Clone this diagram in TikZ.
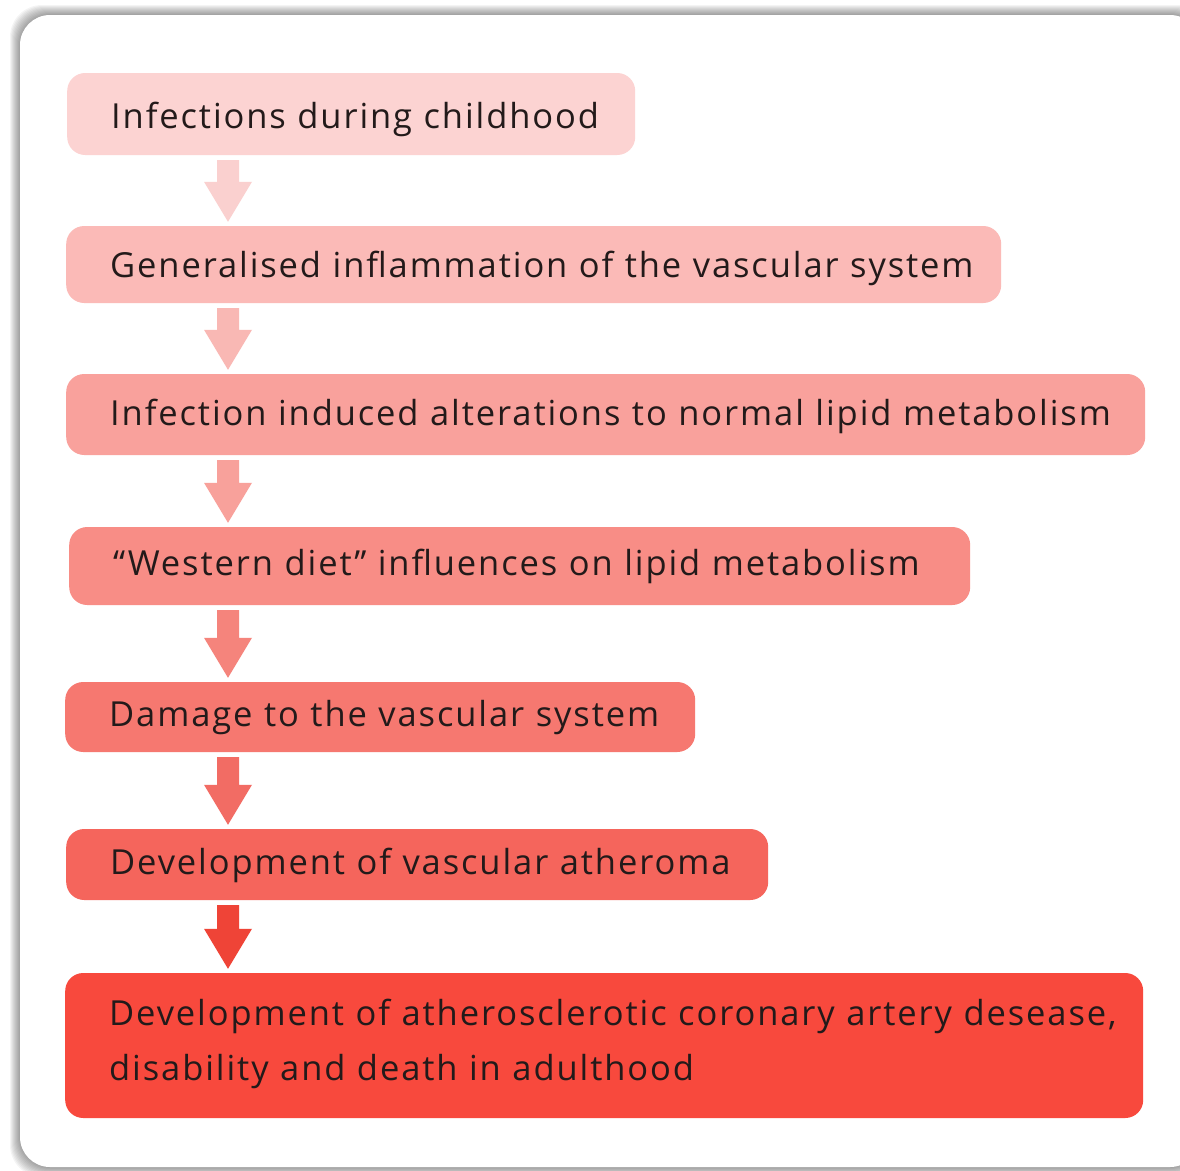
\documentclass[tikz,border=0pt]{standalone}
\usepackage{fontspec}
\setmainfont[LetterSpace=5.5]{Open Sans}
\usetikzlibrary{calc}
\definecolor{cA}{HTML}{FCD3D2}
\definecolor{cB}{HTML}{FBBAB7}
\definecolor{cC}{HTML}{F9A19C}
\definecolor{cD}{HTML}{F88D86}
\definecolor{cE}{HTML}{F67870}
\definecolor{cF}{HTML}{F5655C}
\definecolor{cG}{HTML}{F8493D}
\definecolor{aA}{HTML}{FAD0CF}
\definecolor{aB}{HTML}{F9B8B4}
\definecolor{aC}{HTML}{F8A19B}
\definecolor{aD}{HTML}{F5847C}
\definecolor{aE}{HTML}{F26C64}
\definecolor{aF}{HTML}{EF4437}
\definecolor{txt}{HTML}{231A1A}
\newcommand\blockarrow[3]{%
  \fill[#3] let \p1=(#1.south), \p2=(#2.north) in
    (217pt,\y1-5pt) -- (239pt,\y1-5pt) -- (239pt,\y2+44pt) -- (252pt,\y2+44pt)
    -- (228pt,\y2+4pt) -- (204pt,\y2+44pt) -- (217pt,\y2+44pt) -- cycle;}
\hbadness=10000 \hfuzz=200pt
\begin{document}
\begin{tikzpicture}[x=1pt,y=-1pt,
  stepbox/.style={rounded corners=18pt, inner xsep=44pt, inner ysep=0pt, align=left,
    anchor=west, text=txt, font=\fontsize{34.5}{55}\selectfont},
  bl/.style={text height=#1, text depth=0pt}]
\useasboundingbox (0,0) rectangle (1180,1170);
% card shadow
\foreach \k in {10,9,...,1}{
  \fill[black,opacity=0.045,rounded corners=32pt] (20-\k,15-\k) rectangle (1200+\k,1167+\k);
}
\fill[white,rounded corners=30pt] (20,15) rectangle (1200,1167);
% boxes
\node[stepbox, bl=28pt, fill=cA, text width=480pt, minimum height=82pt] (n1) at (67,114) {\mbox{Infections during childhood}};
\node[stepbox, bl=25pt, fill=cB, text width=847pt, minimum height=77pt] (n2) at (66,264.5) {\mbox{Generalised inflammation of the vascular system}};
\node[stepbox, bl=21pt, fill=cC, text width=991pt, minimum height=81pt] (n3) at (66,414.5) {\mbox{Infection induced alterations to normal lipid metabolism}};
\node[stepbox, bl=18pt, fill=cD, text width=813pt, minimum height=78pt] (n4) at (69,566) {\mbox{“Western diet” influences on lipid metabolism}};
\node[stepbox, bl=18pt, fill=cE, text width=542pt, minimum height=70pt] (n5) at (65,717) {\mbox{Damage to the vascular system}};
\node[stepbox, bl=20pt, fill=cF, text width=614pt, minimum height=71pt] (n6) at (66,864.5) {\mbox{Development of vascular atheroma}};
\node[stepbox, text height=0pt, text depth=41pt, fill=cG, text width=990pt, minimum height=145pt] (n7) at (65,1045.5) {\mbox{Development of atherosclerotic coronary artery desease,}\\\mbox{disability and death in adulthood}};
% arrows
\blockarrow{n1}{n2}{aA}
\blockarrow{n2}{n3}{aB}
\blockarrow{n3}{n4}{aC}
\blockarrow{n4}{n5}{aD}
\blockarrow{n5}{n6}{aE}
\blockarrow{n6}{n7}{aF}
\end{tikzpicture}
\end{document}
